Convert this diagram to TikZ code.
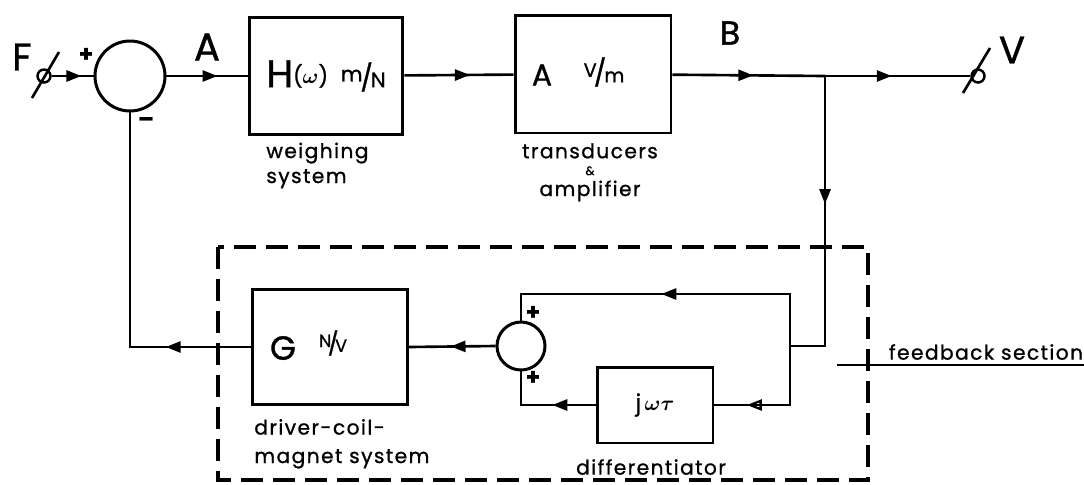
\documentclass[tikz,border=0pt]{standalone}
\usepackage{amsmath,amssymb}
\usepackage{fontspec}
\setmainfont{Poppins}[LetterSpace=7,FakeBold=1]
\usetikzlibrary{arrows.meta,positioning,decorations.markings,calc}

\begin{document}
\begin{tikzpicture}[
    x=0.02cm, y=-0.02cm,
    every node/.style={font=\fontsize{11.5}{14.2}\selectfont},
    sig/.style={line width=1.5pt},
    blk/.style={draw, line width=1.7pt, inner sep=0pt, align=center},
    sumc/.style={draw, circle, line width=1.7pt, inner sep=0pt, minimum size=#1},
    term/.style={draw, circle, line width=1.4pt, inner sep=0pt, minimum size=0.26cm},
    big/.style={inner sep=0pt, font=\fontsize{22}{24}\selectfont},
    sign/.style={inner sep=0pt, font=\fontsize{13}{14}\selectfont\bfseries},
    unit/.style={inner sep=0pt, font=\fontsize{11}{12}\selectfont},
    caption/.style={inner sep=0pt},
    fbframe/.style={line width=2pt, dash pattern=on 0.44cm off 0.2cm},
    midarrow/.style={postaction={decorate}, decoration={markings,
        mark=at position #1 with {\arrow{Triangle[length=3mm,width=2.2mm]}}}},
    openarrow/.style={postaction={decorate}, decoration={markings,
        mark=at position #1 with {\arrow{Triangle[open,length=3mm,width=2.2mm,line width=1.3pt]}}}}
]
\useasboundingbox (0,0) rectangle (1084,484);

% forward path
\node[term] (termF) at (44,76) {};
\node[sumc=1.4cm] (sum1) at (130,76) {};
\node[blk, minimum width=3.08cm, minimum height=2.34cm] (hbox) at (326,76)
    {{\fontsize{22}{24}\selectfont H}{\fontsize{12}{14}\selectfont\raisebox{.3ex}{($\boldsymbol{\omega}$)}\hspace{0.6em}\raisebox{.5ex}{m}\kern-.1em{\fontsize{15}{15}\selectfont/}\kern-.1em N}};
\node[blk, minimum width=3.12cm, minimum height=2.36cm] (abox) at (593,74) {};
\node[big, font=\fontsize{17}{18}\selectfont] (aA) at (542,75) {A};
\node[unit] (aV) at (604,72) {\raisebox{.5ex}{V}\kern-.15em{\fontsize{15}{15}\selectfont/}\kern-.1em m};
\coordinate (junc) at (825,76);
\node[term] (termV) at (978,76) {};

% feedback section
\coordinate (fbturn) at (825,346);
\coordinate (split) at (790,346);
\coordinate (loopT) at (790,294);
\coordinate (loopB) at (790,405);
\coordinate (ret) at (130,347);
\node[sumc=0.96cm] (sum2) at (521,346) {};
\node[blk, minimum width=3.1cm, minimum height=2.3cm] (gbox) at (330,347) {};
\node[big, font=\fontsize{19}{20}\selectfont] (gG) at (283,348) {G};
\node[unit, font=\fontsize{10}{11}\selectfont] (gN) at (333,343) {\raisebox{.5ex}{N}\kern-.2em{\fontsize{13}{13}\selectfont/}\kern-.2em V};
\node[blk, minimum width=2.32cm, minimum height=1.52cm, font=\fontsize{13}{14}\selectfont] (dif) at (655,405) {$\mathrm{j}\,\boldsymbol{\omega\tau}$};

% labels
\node[big] (lblF) at (22,57) {F};
\node[big] (lblA) at (207,47) {A};
\node[big, font=\fontsize{19}{20}\selectfont] (lblB) at (730,33) {B};
\node[big] (lblV) at (1012,50) {V};
\node[sign] (plusF) at (86,55) {+};
\node[sign] (minus) at (146,122) {--};
\node[sign] (plusT) at (533,313) {+};
\node[sign] (plusB) at (533,378) {+};

% captions
\node[caption, anchor=base west, align=left] (capH) at (266,183) {weighing\\system};
\node[caption, anchor=base, align=center] (capA) at (590,196)
    {transducers\\[-4.6pt]{\scriptsize\&}\\[-2.3pt]amplifier};
\node[caption, anchor=base west, align=left] (capG) at (254,463) {driver-coil-\\[2pt]magnet system};
\node[caption] (capD) at (651,467) {differentiator};
\node[caption] (fbsec) at (986,352) {feedback section};
\coordinate (fbL) at (837,365);
\coordinate (fbR) at (1084,365);

% terminals
\draw[sig] ([shift={(-12,22)}]termF.center) -- ([shift={(15,-24)}]termF.center);
\draw[sig] ([shift={(-15,17)}]termV.center) -- ([shift={(12,-28)}]termV.center);

% connectors
\draw[sig, midarrow=0.71] (termF) -- (sum1);
\draw[sig, midarrow=0.63] (sum1) -- (hbox);
\draw[sig, midarrow=0.6] (hbox) -- (abox);
\draw[sig, midarrow=0.53] (abox) -- (junc);
\draw[sig, midarrow=0.46] (junc) -- (termV);
\draw[sig, midarrow=0.42] (junc) -- (fbturn) -- (split);
\draw[sig, midarrow=0.52] (split) -- (loopT) -| (sum2.north);
\draw[sig, openarrow=0.76] (split) -- (loopB) -- (dif.east);
\draw[sig, midarrow=0.4] (dif.west) -| (sum2.south);
\draw[sig, midarrow=0.52] (sum2.west) -- (gbox.east);
\draw[sig, midarrow=0.24] (gbox.west) -- (ret) -- (sum1.south);
\draw[sig] (fbL) -- (fbR);

% dashed frame
\draw[fbframe] (218,247) rectangle (868,480);
\end{tikzpicture}
\end{document}
